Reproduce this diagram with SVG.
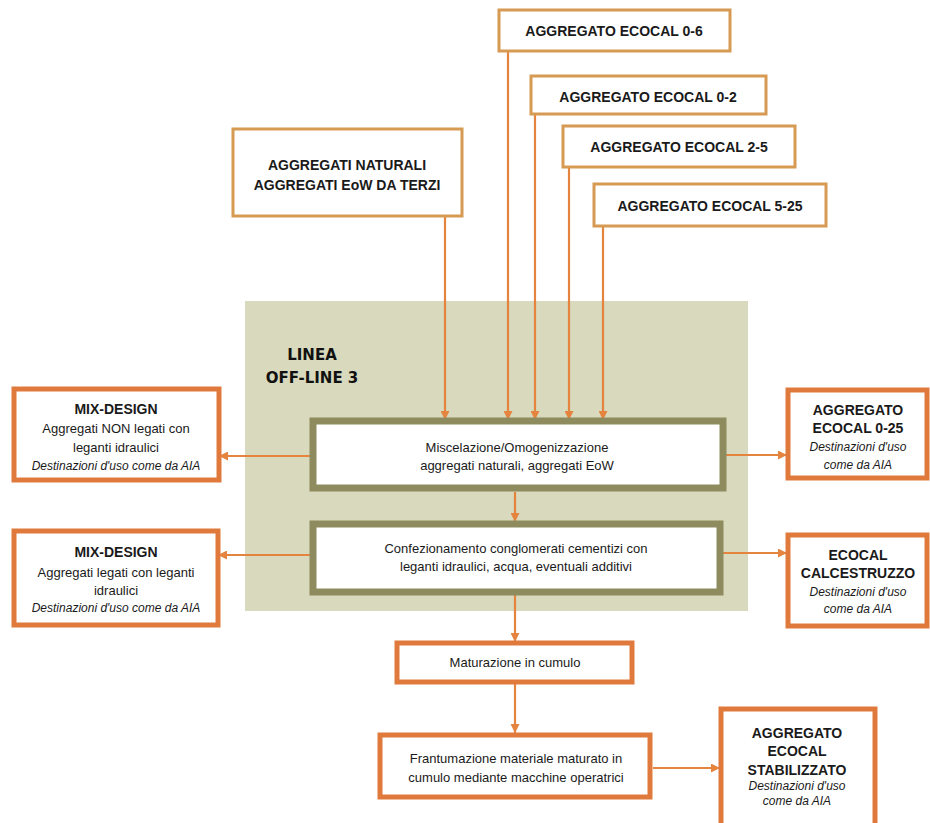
<svg xmlns="http://www.w3.org/2000/svg" width="930" height="823" viewBox="0 0 930 823">
<style>
.bg{fill:#fff}
.top{fill:#fff;stroke:#d69a52;stroke-width:3}
.org{fill:#fff;stroke:#e07a3c;stroke-width:5}
.olv{fill:#fff;stroke:#8e8c5e;stroke-width:7}
.t{font-family:"Liberation Sans",Arial,sans-serif;fill:#1a1a1a;text-anchor:middle}
.b{font-weight:bold}
.h{font-size:14px;font-weight:bold}
.n{font-size:13px}
.i{font-size:12px;font-style:italic}
.lbl{font-family:"DejaVu Sans",Arial,sans-serif;font-weight:900;font-size:15px;fill:#111;text-anchor:middle}
.c{stroke:#e5843f;stroke-width:2.2;fill:none;marker-end:url(#ah)}
</style>
<defs>
<marker id="ah" markerUnits="userSpaceOnUse" markerWidth="10" markerHeight="9" refX="9" refY="4.5" orient="auto">
<path d="M0,0 L9,4.5 L0,9 z" fill="#e5843f"/>
</marker>
</defs>
<rect class="bg" x="0" y="0" width="930" height="823"/>
<g id="area">
<rect x="245" y="301" width="503" height="310" fill="#d8d9bd"/>
<text class="lbl" x="312" y="360">LINEA</text>
<text class="lbl" x="312" y="383">OFF-LINE 3</text>
</g>
<g id="connectors">
<line class="c" x1="445" y1="216" x2="445" y2="420"/>
<line class="c" x1="508" y1="51" x2="508" y2="420"/>
<line class="c" x1="535" y1="114" x2="535" y2="420"/>
<line class="c" x1="569" y1="167" x2="569" y2="420"/>
<line class="c" x1="603" y1="226" x2="603" y2="420"/>
<line class="c" x1="310" y1="456" x2="219" y2="456"/>
<line class="c" x1="726" y1="455" x2="787" y2="455"/>
<line class="c" x1="515" y1="492" x2="515" y2="522"/>
<line class="c" x1="310" y1="555" x2="218" y2="555"/>
<line class="c" x1="723" y1="553" x2="787" y2="553"/>
<line class="c" x1="515" y1="595" x2="515" y2="642"/>
<line class="c" x1="515" y1="684" x2="515" y2="733"/>
<line class="c" x1="653" y1="768" x2="720" y2="768"/>
</g>
<g id="n06"><rect class="top" x="499" y="10" width="231" height="41"/><text class="t h" x="614" y="36">AGGREGATO ECOCAL 0-6</text></g>
<g id="n02"><rect class="top" x="531" y="76" width="235" height="38"/><text class="t h" x="648" y="102">AGGREGATO ECOCAL 0-2</text></g>
<g id="n25"><rect class="top" x="563" y="126" width="232" height="41"/><text class="t h" x="679" y="152">AGGREGATO ECOCAL 2-5</text></g>
<g id="n525"><rect class="top" x="594" y="184" width="232" height="42"/><text class="t h" x="710" y="211">AGGREGATO ECOCAL 5-25</text></g>
<g id="nat"><rect class="top" x="233" y="129" width="229" height="87"/><text class="t h" x="347" y="170">AGGREGATI NATURALI</text><text class="t h" x="347" y="190">AGGREGATI EoW DA TERZI</text></g>
<g id="misc"><rect class="olv" x="313" y="421" width="410" height="67"/><text class="t n" x="517" y="452">Miscelazione/Omogenizzazione</text><text class="t n" x="517" y="470">aggregati naturali, aggregati EoW</text></g>
<g id="conf"><rect class="olv" x="313" y="524" width="407" height="68"/><text class="t n" x="516" y="553">Confezionamento conglomerati cementizi con</text><text class="t n" x="516" y="571">leganti idraulici, acqua, eventuali additivi</text></g>
<g id="mix1"><rect class="org" x="14" y="389" width="205" height="91"/><text class="t h" x="116" y="414">MIX-DESIGN</text><text class="t n" x="116" y="433">Aggregati NON legati con</text><text class="t n" x="116" y="452">leganti idraulici</text><text class="t i" x="116" y="470">Destinazioni d'uso come da AIA</text></g>
<g id="mix2"><rect class="org" x="14" y="531" width="204" height="94"/><text class="t h" x="116" y="557">MIX-DESIGN</text><text class="t n" x="116" y="577">Aggregati legati con leganti</text><text class="t n" x="116" y="595">idraulici</text><text class="t i" x="116" y="612">Destinazioni d'uso come da AIA</text></g>
<g id="eco025"><rect class="org" x="788" y="390" width="139" height="88"/><text class="t h" x="858" y="415">AGGREGATO</text><text class="t h" x="858" y="433">ECOCAL 0-25</text><text class="t i" x="858" y="451">Destinazioni d'uso</text><text class="t i" x="858" y="469">come da AIA</text></g>
<g id="calc"><rect class="org" x="788" y="535" width="139" height="91"/><text class="t h" x="858" y="560">ECOCAL</text><text class="t h" x="858" y="578">CALCESTRUZZO</text><text class="t i" x="858" y="596">Destinazioni d'uso</text><text class="t i" x="858" y="613">come da AIA</text></g>
<g id="mat"><rect class="org" x="397" y="643" width="235" height="39"/><text class="t n" x="515" y="667">Maturazione in cumulo</text></g>
<g id="fran"><rect class="org" x="380" y="735" width="270" height="62" stroke-width="6"/><text class="t n" x="516" y="763">Frantumazione materiale maturato in</text><text class="t n" x="516" y="782">cumulo mediante macchine operatrici</text></g>
<g id="stab"><rect class="org" x="721" y="709" width="154" height="120"/><text class="t h" x="797" y="738">AGGREGATO</text><text class="t h" x="797" y="756">ECOCAL</text><text class="t h" x="797" y="775">STABILIZZATO</text><text class="t i" x="797" y="790">Destinazioni d'uso</text><text class="t i" x="797" y="805">come da AIA</text></g>
</svg>
